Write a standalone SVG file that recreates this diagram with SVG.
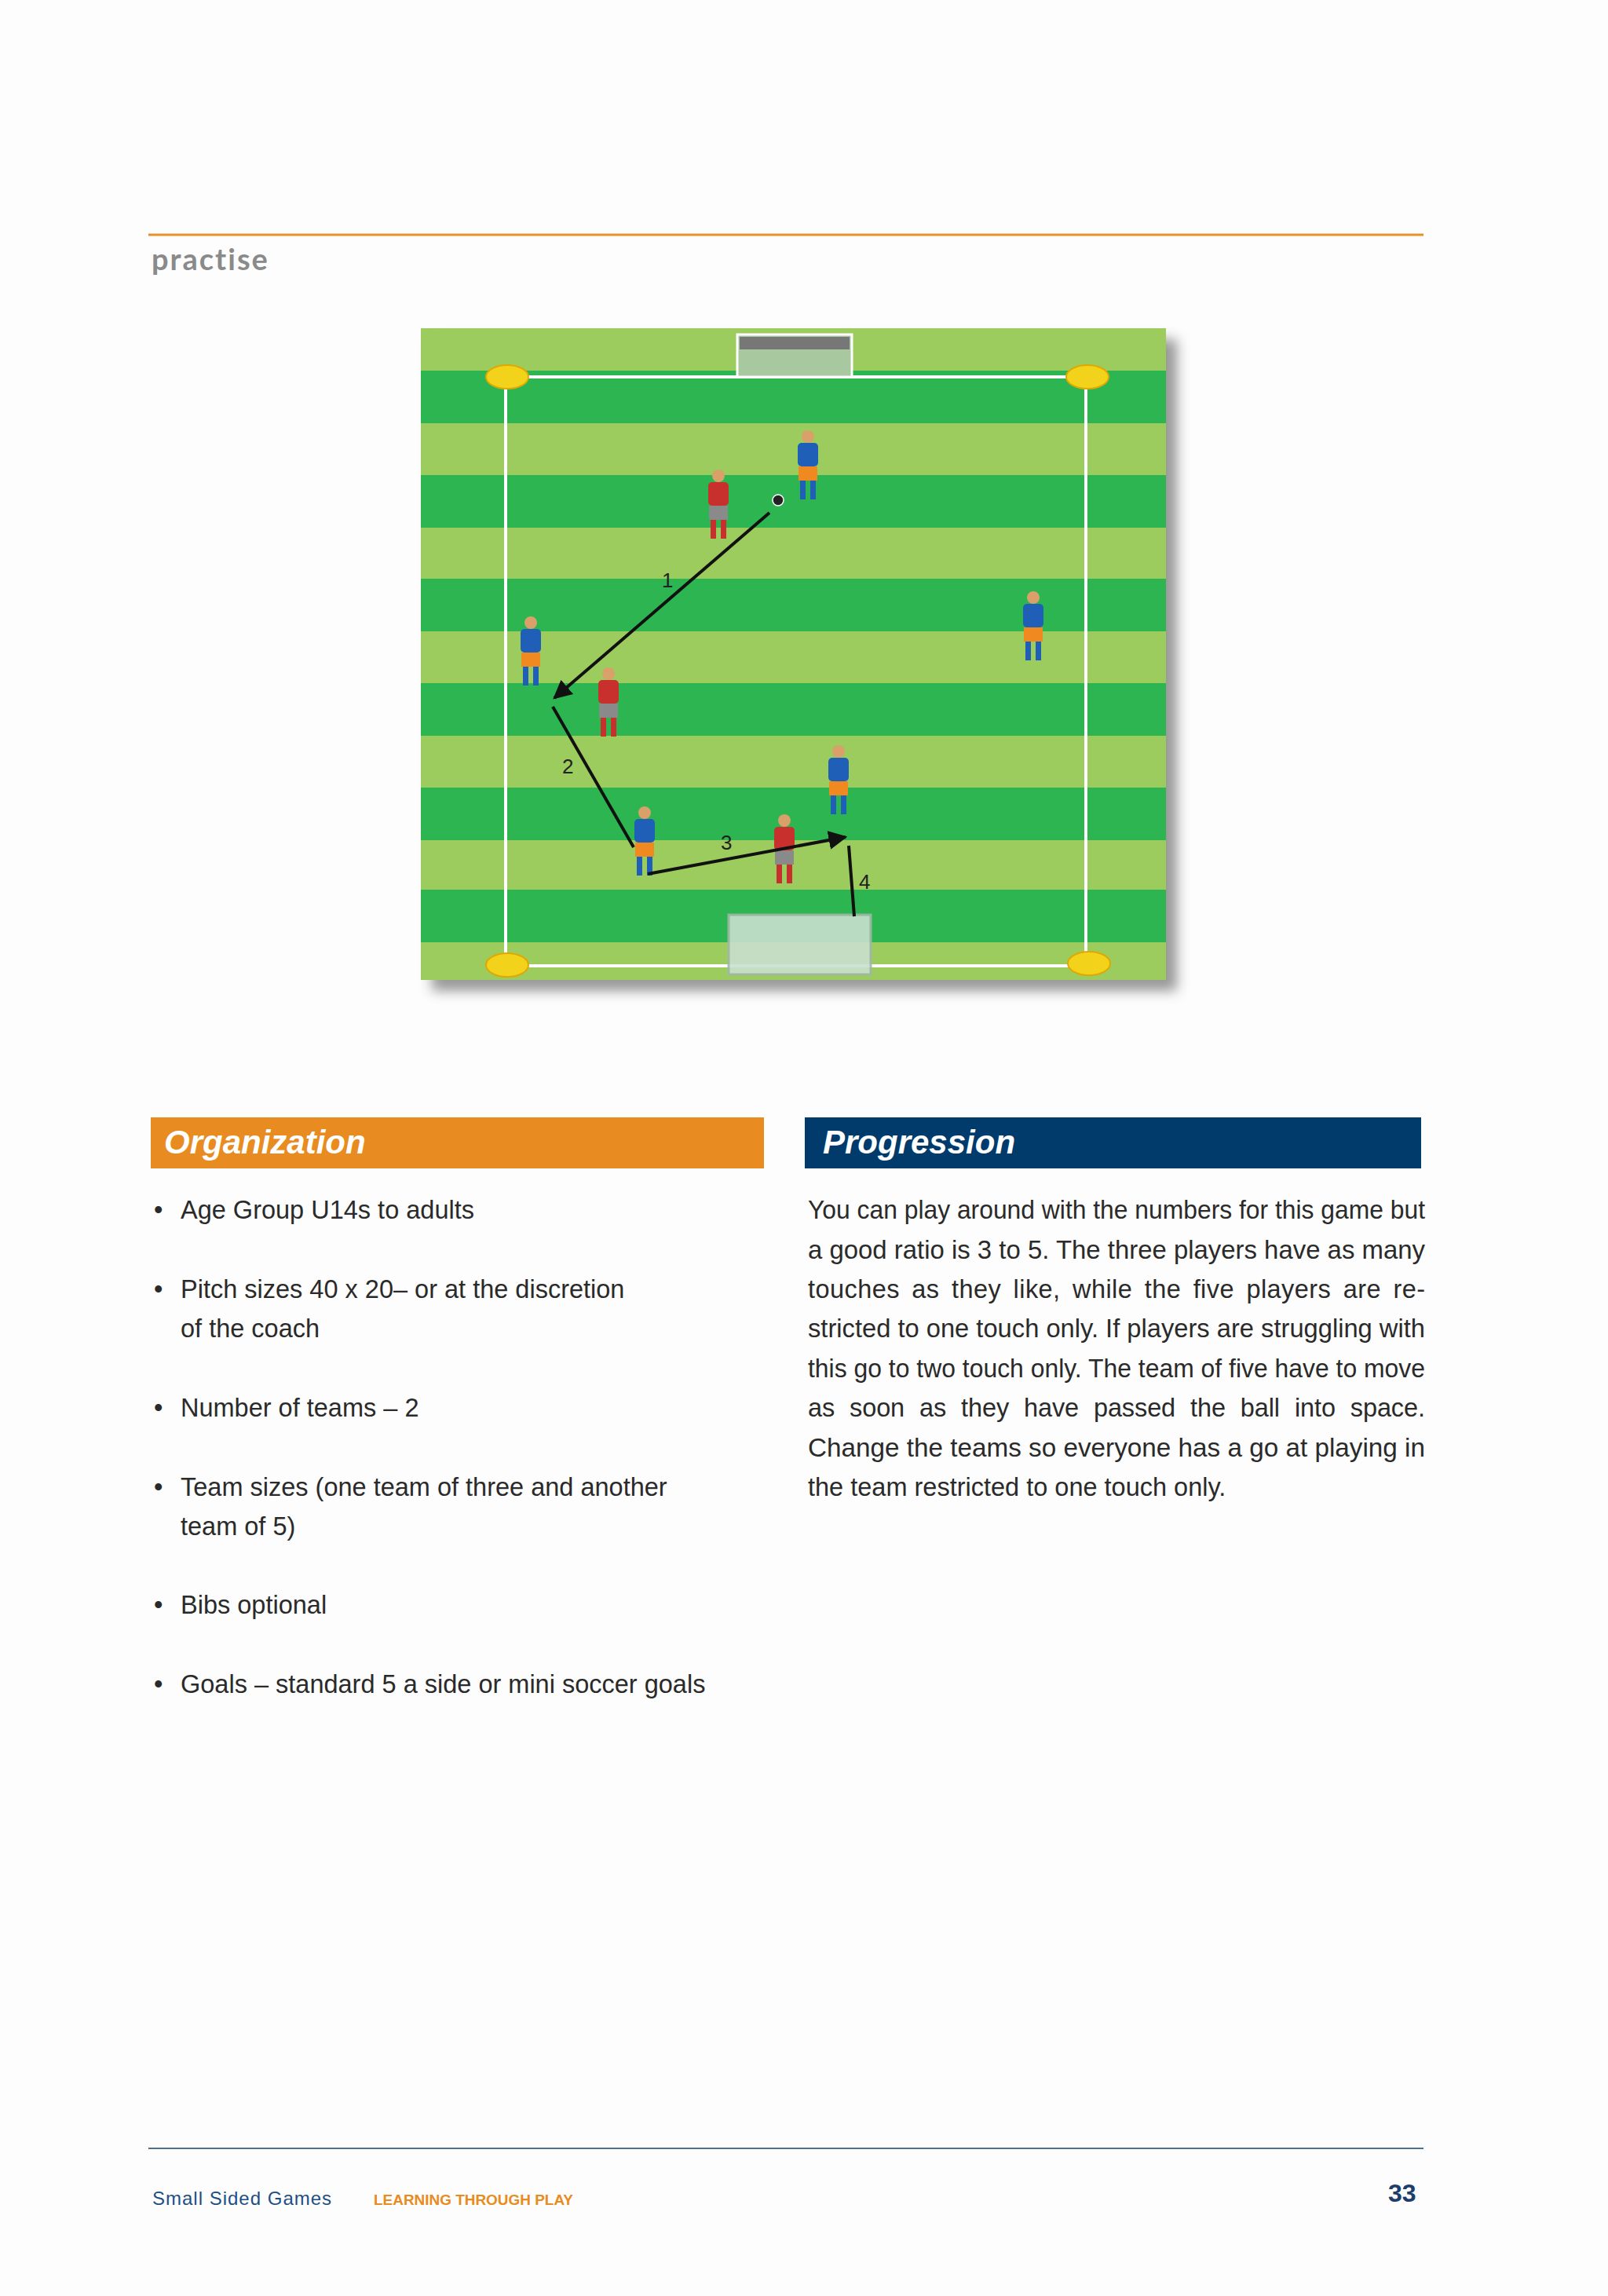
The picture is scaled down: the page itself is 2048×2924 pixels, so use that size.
<svg xmlns="http://www.w3.org/2000/svg" width="2048" height="2924" viewBox="0 0 2048 2924">
<defs>
<style>
.t{font-family:"Liberation Sans",Arial,sans-serif;font-size:32.5px;fill:#2a2a2a}
.h{font-family:"Liberation Sans",Arial,sans-serif;font-size:42px;font-weight:bold;font-style:italic;fill:#fff}
.lbl{font-family:"Liberation Sans",Arial,sans-serif;font-size:26px;fill:#222}
.con{stroke:#111;stroke-width:4;fill:none}
.light{fill:#9ccb5e}.dark{fill:#2db552}
</style>
<marker id="ah" viewBox="0 0 10 10" refX="9" refY="5" markerWidth="6" markerHeight="6" orient="auto" markerUnits="strokeWidth"><path d="M0,0 L10,5 L0,10 Z" fill="#111"/></marker>
<filter id="sh" x="-5%" y="-5%" width="115%" height="115%"><feGaussianBlur stdDeviation="8"/></filter>
<g id="blue"><circle cx="0" cy="-38" r="8" fill="#d9a06a"/><rect x="-13" y="-30" width="26" height="30" rx="5" fill="#1f5fb8"/><rect x="-12" y="0" width="24" height="18" fill="#f08a20"/><rect x="-10" y="18" width="7" height="24" fill="#1f5fb8"/><rect x="3" y="18" width="7" height="24" fill="#1f5fb8"/></g>
<g id="red"><circle cx="0" cy="-38" r="8" fill="#d9a06a"/><rect x="-13" y="-30" width="26" height="30" rx="5" fill="#c8302e"/><rect x="-12" y="0" width="24" height="18" fill="#8a8a8a"/><rect x="-10" y="18" width="7" height="24" fill="#c8302e"/><rect x="3" y="18" width="7" height="24" fill="#c8302e"/></g>
</defs>
<rect width="2048" height="2924" fill="#fdfdfd"/>
<g id="header">
<line x1="189" y1="299" x2="1813" y2="299" stroke="#e8912a" stroke-width="3"/>
<text x="193" y="344" font-family="Lato,'Liberation Sans',sans-serif" font-size="38" font-weight="bold" fill="#8a8a8a" letter-spacing="2">practise</text>
</g>
<g id="pitch">
<rect x="550" y="432" width="949" height="830" fill="#555" opacity="0.6" filter="url(#sh)"/>
<rect x="536" y="418" width="949" height="830" class="light"/>
<rect x="536" y="472" width="949" height="67" class="dark"/>
<rect x="536" y="605" width="949" height="67" class="dark"/>
<rect x="536" y="737" width="949" height="67" class="dark"/>
<rect x="536" y="870" width="949" height="67" class="dark"/>
<rect x="536" y="1003" width="949" height="67" class="dark"/>
<rect x="536" y="1133" width="949" height="67" class="dark"/>
<path d="M644,480 H1383 V1230 H644 Z" fill="none" stroke="#fff" stroke-width="4"/>
<rect x="939" y="426" width="146" height="54" fill="#a8c9a0" stroke="#fff" stroke-width="3"/>
<rect x="942" y="429" width="140" height="16" fill="#777"/>
<rect x="928" y="1165" width="181" height="76" fill="#c9e0cf" stroke="#9fb8a8" stroke-width="3" opacity="0.9"/>
<g fill="#f3d21c" stroke="#e0a800" stroke-width="2">
<ellipse cx="646" cy="480" rx="27" ry="15"/><ellipse cx="1385" cy="480" rx="27" ry="15"/>
<ellipse cx="646" cy="1229" rx="27" ry="15"/><ellipse cx="1387" cy="1227" rx="27" ry="15"/>
</g>
</g>
<g id="players">
<use href="#blue" x="1029" y="594"/><use href="#blue" x="676" y="831"/><use href="#blue" x="1316" y="799"/>
<use href="#blue" x="1068" y="995"/><use href="#blue" x="821" y="1073"/>
<use href="#red" x="915" y="644"/><use href="#red" x="775" y="896"/><use href="#red" x="999" y="1083"/>
<circle cx="991" cy="637" r="7" fill="#222" stroke="#fff" stroke-width="1.5"/>
</g>
<g id="connectors">
<line class="con" x1="980" y1="653" x2="706" y2="889" marker-end="url(#ah)"/>
<line class="con" x1="704" y1="900" x2="807" y2="1079"/>
<line class="con" x1="825" y1="1113" x2="1077" y2="1066" marker-end="url(#ah)"/>
<line class="con" x1="1088" y1="1167" x2="1081" y2="1077"/>
<text class="lbl" x="843" y="748">1</text><text class="lbl" x="716" y="985">2</text>
<text class="lbl" x="918" y="1082">3</text><text class="lbl" x="1094" y="1132">4</text>
</g>
<g id="organization">
<rect x="192" y="1423" width="781" height="65" fill="#e88b20"/>
<text class="h" x="209" y="1469">Organization</text>
<g class="t">
<text x="196" y="1552">•</text><text x="230" y="1552">Age Group U14s to adults</text>
<text x="196" y="1653">•</text><text x="230" y="1653">Pitch sizes 40 x 20– or at the discretion</text>
<text x="230" y="1703">of the coach</text>
<text x="196" y="1804">•</text><text x="230" y="1804">Number of teams – 2</text>
<text x="196" y="1905">•</text><text x="230" y="1905">Team sizes (one team of three and another</text>
<text x="230" y="1955">team of 5)</text>
<text x="196" y="2055">•</text><text x="230" y="2055">Bibs optional</text>
<text x="196" y="2156">•</text><text x="230" y="2156">Goals – standard 5 a side or mini soccer goals</text>
</g>
</g>
<g id="progression">
<rect x="1025" y="1423" width="785" height="65" fill="#003b6b"/>
<text class="h" x="1048" y="1469">Progression</text>
<g class="t">
<text x="1029" y="1552" textLength="786" lengthAdjust="spacingAndGlyphs">You can play around with the numbers for this game but</text>
<text x="1029" y="1603" textLength="786" lengthAdjust="spacingAndGlyphs">a good ratio is 3 to 5. The three players have as many</text>
<text x="1029" y="1653" textLength="786" lengthAdjust="spacing" word-spacing="6">touches as they like, while the five players are re-</text>
<text x="1029" y="1703" textLength="786" lengthAdjust="spacingAndGlyphs">stricted to one touch only. If players are struggling with</text>
<text x="1029" y="1754" textLength="786" lengthAdjust="spacingAndGlyphs">this go to two touch only. The team of five have to move</text>
<text x="1029" y="1804" textLength="786" lengthAdjust="spacing" word-spacing="10">as soon as they have passed the ball into space.</text>
<text x="1029" y="1855" textLength="786" lengthAdjust="spacingAndGlyphs">Change the teams so everyone has a go at playing in</text>
<text x="1029" y="1905">the team restricted to one touch only.</text>
</g>
</g>
<g id="footer">
<line x1="189" y1="2736" x2="1813" y2="2736" stroke="#4a6f8f" stroke-width="2"/>
<text x="194" y="2808" font-family="'Liberation Sans',sans-serif" font-size="24" fill="#1d4f85" letter-spacing="1">Small Sided Games</text>
<text x="476" y="2808" font-family="'Liberation Sans',sans-serif" font-size="19" font-weight="bold" fill="#e88b20" textLength="254" lengthAdjust="spacingAndGlyphs">LEARNING THROUGH PLAY</text>
<text x="1768" y="2804" font-family="'Liberation Sans',sans-serif" font-size="32" font-weight="bold" fill="#1d3d6b">33</text>
</g>
</svg>
